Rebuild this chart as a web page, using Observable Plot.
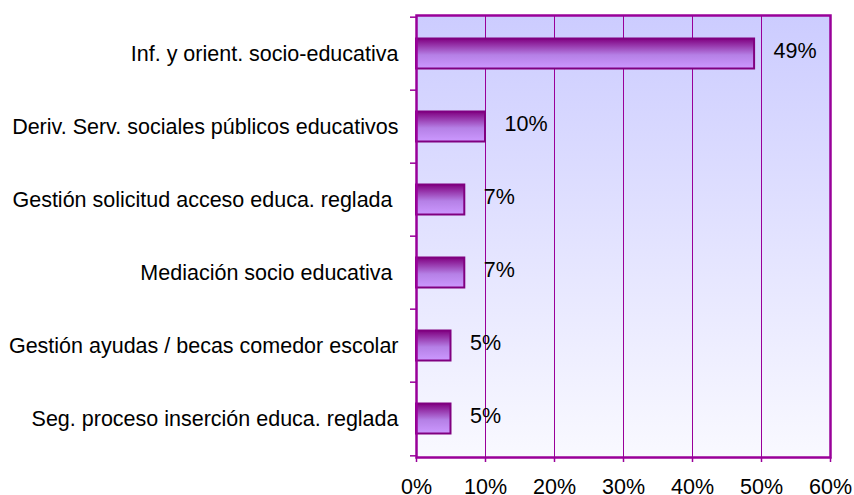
<!DOCTYPE html>
<html>
<head>
<meta charset="utf-8">
<script src="https://cdn.jsdelivr.net/npm/d3@7"></script>
<script src="https://cdn.jsdelivr.net/npm/@observablehq/plot@0.6"></script>
<style>
  html, body { margin: 0; padding: 0; background: #fff; }
  svg text { white-space: pre; }
</style>
</head>
<body>
<div id="chart"></div>
<script>
const categories = [
  "Inf. y orient. socio-educativa",
  "Deriv. Serv. sociales públicos educativos",
  "Gestión solicitud acceso educa. reglada ",
  "Mediación socio educativa ",
  "Gestión ayudas / becas comedor escolar",
  "Seg. proceso inserción educa. reglada"
];
const values = [0.49, 0.10, 0.07, 0.07, 0.05, 0.05];
const valueLabels = ["49%", "10%", "7%", "7%", "5%", "5%"];
const xTicks = [0, 0.1, 0.2, 0.3, 0.4, 0.5, 0.6];
const gridTicks = [0.1, 0.2, 0.3, 0.4, 0.5];

const data = categories.map((c, i) => ({cat: c, value: values[i], label: valueLabels[i]}));

const W = 854, H = 495;
const mT = 15, mB = 38, mL = 416, mR = 24;
const step = (H - mT - mB) / categories.length;
const purple = "#990099";
const fs = 21.5;

const chart = Plot.plot({
  width: W,
  height: H,
  marginTop: mT,
  marginBottom: mB,
  marginLeft: mL,
  marginRight: mR,
  style: {fontFamily: "'Liberation Sans', Arial, sans-serif", fontSize: fs + "px", color: "#000", background: "transparent"},
  x: {domain: [0, 0.6], axis: null, label: null},
  y: {domain: categories, padding: 0, axis: null, label: null},
  marks: [
    Plot.frame({fill: "url(#bgGrad)", stroke: "none"}),
    Plot.ruleX(gridTicks, {x: d => d, stroke: purple, strokeWidth: 1}),
    Plot.barX(data, {y: "cat", x: "value", fill: "url(#barGrad)", stroke: "#800080", strokeWidth: 2, insetTop: 21.5, insetBottom: 21.5}),
    Plot.frame({stroke: purple, strokeWidth: 2.5}),
    Plot.ruleY(categories, {y: d => d, x1: 0, x2: 0, insetLeft: -6, dy: -step / 2, stroke: purple, strokeWidth: 1.5}),
    Plot.ruleY(categories.slice(-1), {y: d => d, x1: 0, x2: 0, insetLeft: -6, dy: step / 2, stroke: purple, strokeWidth: 1.5}),
    Plot.axisY({tickSize: 0, tickPadding: 18, fill: "#000", fontSize: fs, label: null}),
    Plot.axisX({ticks: xTicks, tickFormat: d3.format(".0%"), tickSize: 5, tickPadding: 16, stroke: purple, strokeWidth: 1.5, fill: "#000", fontSize: fs, label: null}),
    Plot.text(data, {y: "cat", x: "value", text: "label", textAnchor: "start", dx: 19, dy: -3, fill: "#000", fontSize: fs})
  ]
});

const svg = d3.select(chart);
const defs = svg.insert("defs", ":first-child");
const bg = defs.append("linearGradient").attr("id", "bgGrad").attr("x1", 0).attr("y1", 0).attr("x2", 0).attr("y2", 1);
bg.append("stop").attr("offset", "0%").attr("stop-color", "#ccccff");
bg.append("stop").attr("offset", "100%").attr("stop-color", "#f9f9ff");
const bar = defs.append("linearGradient").attr("id", "barGrad").attr("x1", 0).attr("y1", 0).attr("x2", 0).attr("y2", 1);
bar.append("stop").attr("offset", "0%").attr("stop-color", "#800080");
bar.append("stop").attr("offset", "55%").attr("stop-color", "#b580e6");
bar.append("stop").attr("offset", "100%").attr("stop-color", "#cc99ff");

document.getElementById("chart").appendChild(chart);
</script>
</body>
</html>
